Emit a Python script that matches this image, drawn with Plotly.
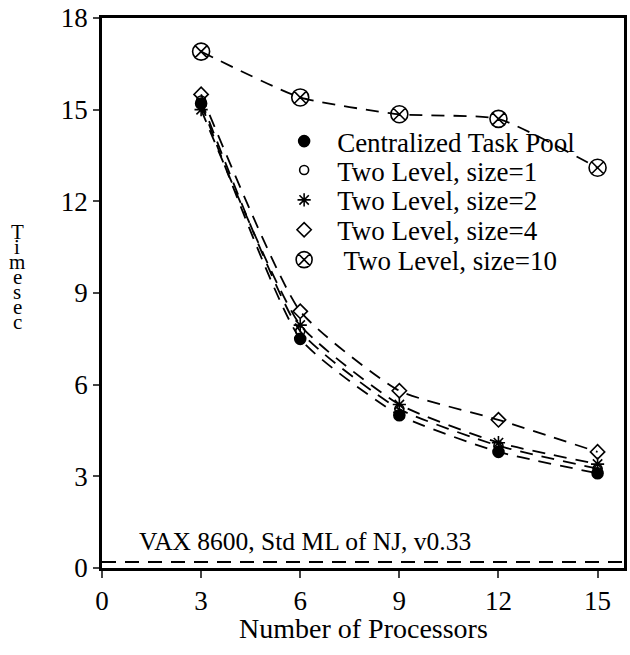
import plotly.graph_objects as go

procs = [3, 6, 9, 12, 15]
central = [15.2, 7.5, 5.0, 3.8, 3.1]
two_l1 = [15.3, 7.75, 5.2, 4.0, 3.25]
two_l2 = [15.0, 7.95, 5.35, 4.1, 3.4]
two_l4 = [15.5, 8.4, 5.8, 4.85, 3.8]
two_l10 = [16.9, 15.4, 14.85, 14.7, 13.1]

names = ["Centralized Task Pool", "Two Level, size=1", "Two Level, size=2",
         "Two Level, size=4", " Two Level, size=10"]
series = [central, two_l1, two_l2, two_l4, two_l10]
symbols = ["circle", "circle-open", "asterisk-open", "diamond-open", "circle-x-open"]
msizes = [11, 9, 11, 11, 17]
baseline_y = 0.2
baseline_label = "VAX 8600, Std ML of NJ, v0.33"
xticks = [0, 3, 6, 9, 12, 15]
yticks = [0, 3, 6, 9, 12, 15, 18]

FONT = "Liberation Serif"
fig = go.Figure()

legend_rows = [140, 169, 199, 229, 259]
legend_layouts = {}
for i, (nm, ys, sym, ms) in enumerate(zip(names, series, symbols, msizes)):
    lg = "legend" if i == 0 else f"legend{i + 1}"
    fig.add_trace(go.Scatter(
        x=procs, y=ys, mode="lines+markers", showlegend=False,
        line=dict(color="black", width=1.8, dash="13px,9px", shape="spline", smoothing=0.5),
        marker=dict(symbol=sym, size=ms, color="black", line=dict(color="black", width=1.6)),
    ))
    fig.add_trace(go.Scatter(
        x=[None], y=[None], mode="markers", name=nm, showlegend=True, legend=lg,
        marker=dict(symbol=sym, size=ms, color="black", line=dict(color="black", width=1.6)),
    ))
    legend_layouts[lg] = dict(
        x=0.324, y=(568 - legend_rows[i]) / 552, xanchor="left", yanchor="middle",
        bgcolor="rgba(0,0,0,0)", itemwidth=56,
        font=dict(family=FONT, size=27, color="black"),
    )

fig.add_shape(type="line", xref="paper", x0=0, x1=1, yref="y", y0=baseline_y, y1=baseline_y,
              line=dict(color="black", width=2, dash="14px,9px"))
fig.add_annotation(x=1.05, y=baseline_y + 0.12, xref="x", yref="y", text=baseline_label,
                   showarrow=False, xanchor="left", yanchor="bottom",
                   font=dict(family=FONT, size=25.5, color="black"))

fig.add_annotation(x=0.5, y=-0.11, xref="paper", yref="paper", text="Number of Processors",
                   showarrow=False, xanchor="center", yanchor="middle",
                   font=dict(family=FONT, size=28, color="black"))

ylabel = "Timesec"
for i, ch in enumerate(ylabel):
    py = 231 + i * 15
    fig.add_annotation(x=-0.162, y=(568 - py) / 552, xref="paper", yref="paper", text=ch,
                       showarrow=False, xanchor="center", yanchor="middle",
                       font=dict(family=FONT, size=21, color="black"))

fig.update_xaxes(range=[0, 15.8], tickvals=xticks, ticks="outside", ticklen=7, tickwidth=2,
                 showline=True, linewidth=2.5, linecolor="black", mirror=True,
                 showgrid=False, zeroline=False, tickfont=dict(family=FONT, size=27, color="black"))
fig.update_yaxes(range=[0, 18], tickvals=yticks, ticks="outside", ticklen=6, tickwidth=2,
                 showline=True, linewidth=2.5, linecolor="black", mirror=True,
                 showgrid=False, zeroline=False, tickfont=dict(family=FONT, size=27, color="black"))

fig.update_layout(
    width=630, height=655, autosize=False,
    margin=dict(l=102, r=3, t=16, b=87),
    paper_bgcolor="white", plot_bgcolor="white",
    **legend_layouts,
)

fig.write_html("out.html")
